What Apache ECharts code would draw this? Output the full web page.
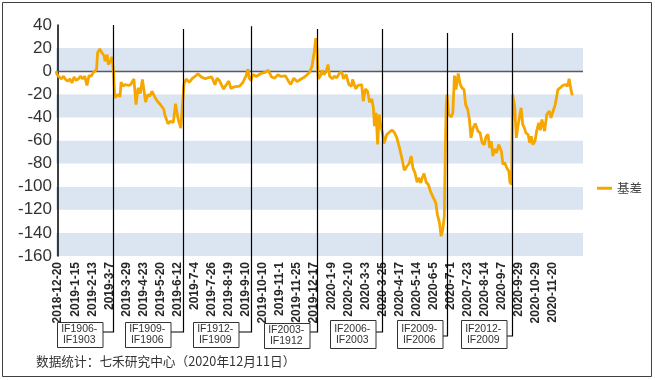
<!DOCTYPE html>
<html>
<head>
<meta charset="utf-8">
<script src="https://cdn.jsdelivr.net/npm/echarts@6/dist/echarts.min.js"></script>
<style>html,body{margin:0;padding:0;background:#fff}#c{width:655px;height:380px}</style>
</head>
<body>
<div id="c"></div>
<script>
// x tick labels: every 16 trading days
const tickLabels = ['2018-12-20','2019-1-15','2019-2-13','2019-3-7','2019-3-29','2019-4-23','2019-5-20','2019-6-12','2019-7-4','2019-7-26','2019-8-19','2019-9-10','2019-10-10','2019-11-1','2019-11-25','2019-12-17','2020-1-9','2020-2-10','2020-3-3','2020-3-25','2020-4-17','2020-5-14','2020-6-5','2020-7-1','2020-7-23','2020-8-14','2020-9-7','2020-9-29','2020-10-29','2020-11-20'];
const tickStep = 16;
const yTicks = [-160, 40, 20];
// basis series: [trading-day index, value]
const basisPoints = [
[-2,0],[-1,-3],[1,-5],[3,-6.6],[5,-4.3],[7,-7.2],[9,-8.7],[11,-6.6],[13,-10],[15,-5],[17,-8],[19,-6.6],[21,-4.3],[23,-6.6],[25,-4.3],[27,-12.4],[29,-3.8],[31,-4.3],[33,-1],[36,1.4],[37,16],[39,19.3],[41,16],[43,13.6],[44,8.7],[46,14.4],[47,5.8],[49,8.7],[50.5,12.4],[52,-1.4],
[53,-23],[56,-20.2],[58,-22.2],[59,-9.5],[61,-13],[63,-11.5],[66,-12.4],[68,-11.5],[71,-6.6],[73,-28.9],[75,-14.4],[77,-19.3],[79,-7.2],[82,-26.8],[84,-20.2],[86,-21.6],[88,-17.3],[91,-23],[93,-26],[96,-29],[99,-33],[100,-37.7],[103,-45.5],[105,-43.4],[108,-44.3],[110,-28.1],[112,-39.1],[113,-43.4],[115,-49.2],[116,-36.2],[117,-35.6],
[118,-11],[120,-6.7],[123,-9.5],[126,-6],[129,-4],[131,-2.2],[134,-4.9],[138,-6.6],[141,-5.5],[144,-5],[147,-11.8],[149,-6],[151,-7.8],[155,-15.5],[157,-12.6],[160,-8.5],[162,-15],[165,-13.5],[170,-13],[173,-10],[176,-4.3],[178,1.8],[179,-6],[181,-8],
[182,-3],[186,-4.5],[190,-2],[194,-1],[197,0.8],[200,-5],[203,-6],[206,-3],[209,-4.5],[213,-4],[216,-8.7],[218,-11.5],[221,-6],[224,-9],[227,-7.2],[231,-5],[234,-2.5],[236,-0.5],[238,4.5],[240,16.5],[241.5,28.5],[242.5,21.6],
[243.8,-6.6],[246,-3.8],[247.5,0.9],[249,-2.9],[251,-0.9],[253,5.8],[254.5,-4.3],[257,-6.6],[259,-4.3],[261,-5.8],[264,-1.4],[266,-0.9],[267.5,-6.6],[270,-2.9],[272.5,-11.5],[275,-13],[276,-7.2],[279,-15.3],[281,-12.4],[282.5,-13],[284.5,-11.5],[286,-26],[288,-15.3],[290,-17.3],[292,-26.8],[294,-24],[295.5,-31.7],[296.5,-47.6],[298,-36],[299.5,-63.5],[301,-37.5],[302.5,-47.6],[304,-53.4],
[305.5,-62.6],[308,-54.8],[310.5,-52.8],[313,-51],[315,-52.8],[317.5,-57.7],[320,-66.4],[322.5,-76.5],[324.5,-85.7],[327,-82.3],[329,-79.9],[331,-73.6],[332.5,-83.7],[334.5,-88],[336.5,-96.1],[338,-92.4],[340,-96.7],[341,-93.2],[343,-88.6],[345,-96.1],[347,-98.1],[349,-103.9],[351,-108.2],[354,-114],[355.5,-124.1],[357.5,-131.3],[359,-142.9],[360.5,-137.7],[362,-125.5],[363,-64.9],[363.8,-28.9],
[364.5,-20.2],[366,-37.5],[368.5,-39.5],[370,-36],[371.5,-3.8],[373,-15.9],[375,-2],[377,-11.5],[378.5,-14.4],[380.5,-15.9],[382,-28.9],[384,-33.2],[385.5,-41.8],[387,-57.7],[389,-49.1],[391,-45.3],[393.5,-51.9],[395.5,-53.4],[397.5,-62],[399.5,-63.5],[401,-56.9],[403,-54.8],[404.5,-66.4],[406,-60.6],[407.5,-73.6],[409,-67.2],[411,-70.7],[413,-63.5],[415.5,-69.3],[417,-80.8],[418.5,-78.8],[420.5,-83.7],[422.5,-86.6],[423.5,-96.1],[425,-98.1],
[426,-20.2],[428,-30.9],[429.5,-57.7],[431,-47.6],[432.5,-39],[434,-31.7],[435.5,-46.2],[437,-49.1],[438.5,-53.4],[440.5,-54.8],[442,-62],[443.5,-56.3],[445,-63.5],[447,-60.6],[448.5,-51.9],[450.5,-44.7],[452,-51.1],[453.5,-41.8],[456,-51.9],[458,-37.5],[460.5,-34.6],[462,-40.4],[464.5,-33.2],[466,-28.9],[468.5,-15.9],[470.5,-14.4],[473,-12.4],[475.5,-11.5],[477.5,-13],[479,-6.6],[481,-17.3],[482,-21]
];
// contract roll dates (trading-day index) and labels
const rollIdx = [51.7, 117, 180.8, 242.8, 303.3, 364.7, 425.2];
const rollLabels = ['IF1906-\nIF1903','IF1909-\nIF1906','IF1912-\nIF1909','IF2003-\nIF1912','IF2006-\nIF2003','IF2009-\nIF2006','IF2012-\nIF2009'];
const seriesName = '基差';
const sourceText = '数据统计：七禾研究中心（2020年12月11日）';

// layout of the annotation boxes (styling only)
const rollTopVal = [40, 36.5, 39, 36.5, 36.5, 33, 33];
const connY = [332, 332, 332, 332, 332, 336, 336];
const boxGap = [11.5, 13.5, 13.5, 8.5, 7.5, 5.5, 6.5];
const boxTop = [322, 322, 322, 323, 320, 320, 320];
const boxH = [25, 25, 25, 25, 28, 28, 28];
const boxW = 45.5;

const chart = echarts.init(document.getElementById('c'), null, {renderer: 'canvas'});
const xMin = -2, xMax = 492;
const tickValues = tickLabels.map((_, i) => i * tickStep);
const option = {
  animation: false,
  backgroundColor: '#fff',
  grid: {left: 56, right: 72, top: 25, bottom: 124, containLabel: false, outerBoundsMode: 'none'},
  legend: {
    data: [{name: seriesName, icon: 'rect'}],
    left: 592, top: 177, itemWidth: 15, itemHeight: 3, itemGap: 10,
    textStyle: {fontFamily: 'Noto Sans CJK SC', fontSize: 12.5, color: '#404040'}
  },
  xAxis: {
    type: 'value', min: xMin, max: xMax,
    axisLine: {show: false}, axisTick: {show: false}, splitLine: {show: false},
    axisLabel: {
      customValues: tickValues, rotate: 90, margin: 6, interval: 0,
      fontFamily: 'Liberation Sans', fontSize: 12, fontWeight: 'bold', color: '#262626',
      formatter: v => tickLabels[Math.round(v / tickStep)] || ''
    }
  },
  yAxis: {
    type: 'value', min: yTicks[0], max: yTicks[1], interval: yTicks[2],
    axisLine: {show: true, lineStyle: {color: '#000', width: 1.5}},
    axisTick: {show: false}, splitLine: {show: false},
    splitArea: {show: true, areaStyle: {color: ['#dbe5f1', '#ffffff']}},
    axisLabel: {margin: 4, fontFamily: 'Liberation Sans', fontSize: 17, color: '#333'}
  },
  series: [{
    name: seriesName, type: 'line', showSymbol: false, symbol: 'none',
    lineStyle: {color: '#f5a700', width: 2.8}, itemStyle: {color: '#f5a700'},
    data: basisPoints, z: 5
  }]
};
chart.setOption(option);

const g = [];
// zero reference line
const z0 = chart.convertToPixel({xAxisIndex: 0, yAxisIndex: 0}, [xMin, 0]);
const z1 = chart.convertToPixel({xAxisIndex: 0, yAxisIndex: 0}, [xMax, 0]);
g.push({type: 'line', z: 1, silent: true,
  shape: {x1: z0[0], y1: Math.round(z0[1]) + 0.5, x2: z1[0], y2: Math.round(z1[1]) + 0.5},
  style: {stroke: '#5a5a5a', lineWidth: 1.5}});
rollIdx.forEach((ix, i) => {
  const top = chart.convertToPixel({xAxisIndex: 0, yAxisIndex: 0}, [ix, rollTopVal[i]]);
  const x = Math.round(top[0]) + 0.5;
  const bx = x - boxGap[i] - boxW;
  g.push({type: 'polyline', z: 10, silent: true,
    shape: {points: [[x, top[1]], [x, connY[i]], [x - boxGap[i], connY[i]]]},
    style: {stroke: '#000', lineWidth: 1.2, fill: null}});
  g.push({type: 'rect', z: 10, silent: true,
    shape: {x: Math.round(bx) + 0.5, y: boxTop[i] + 0.5, width: boxW, height: boxH[i]},
    style: {fill: '#fff', stroke: '#333', lineWidth: 1}});
  g.push({type: 'text', z: 11, silent: true,
    x: bx + boxW / 2, y: boxTop[i] + boxH[i] / 2 + 0.5,
    style: {text: rollLabels[i], align: 'center', verticalAlign: 'middle',
      fontFamily: 'Liberation Sans', fontSize: 10.5, lineHeight: 11, fill: '#333'}});
});
g.push({type: 'text', z: 11, silent: true, x: 36, y: 361,
  style: {text: sourceText, verticalAlign: 'middle', fontFamily: 'Noto Sans CJK SC', fontSize: 12.7, fill: '#333'}});
g.push({type: 'rect', z: 1, silent: true,
  shape: {x: 2.5, y: 2.5, width: 649, height: 374},
  style: {fill: null, stroke: '#404040', lineWidth: 1}});
chart.setOption({graphic: g});
</script>
</body>
</html>
